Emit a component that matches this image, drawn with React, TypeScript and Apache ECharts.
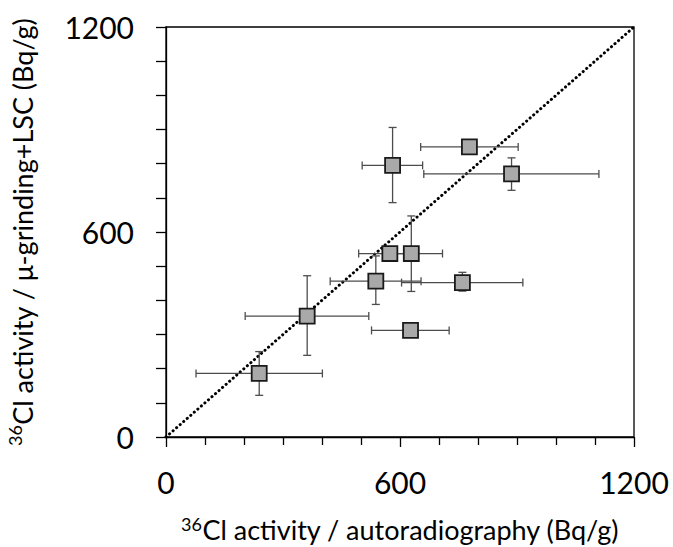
import React, { useEffect, useRef } from "react";
import * as echarts from "echarts";

// autoradiography activity (x) and μ-grinding+LSC activity (y), Bq/g
const xValues = [239, 362, 538, 574, 629, 760, 627, 581, 778, 886];
const yValues = [186, 354, 456, 537, 537, 452, 312, 795, 849, 770];
const xLow = [77, 203, 421, 494, 575, 604, 527, 503, 653, 661];
const xHigh = [401, 520, 654, 630, 709, 915, 726, 658, 903, 1110];
const yLow = [122, 239, 388, 537, 426, 427, 312, 686, 849, 722];
const yHigh = [250, 472, 530, 537, 647, 482, 312, 906, 849, 817];
const identityLine = [
  [0, 0],
  [1200, 1200],
];
const axisMin = 0;
const axisMax = 1200;
const labelInterval = 600;

const FONT = "Lato";

export default function App() {
  const ref = useRef<HTMLDivElement>(null);
  useEffect(() => {
    document.body.style.margin = "0";
    const chart = echarts.init(ref.current!, null, { renderer: "svg" });
    const points = xValues.map((x, i) => [x, yValues[i]]);
    const errData = xValues.map((x, i) => [x, yValues[i], xLow[i], xHigh[i], yLow[i], yHigh[i]]);
    const capH = 4;
    const errStyle = { stroke: "#4d4d4d", lineWidth: 1.3 };
    const makeRich = (lh: number) => ({
      sup: { fontFamily: FONT, fontSize: 18, color: "#000", verticalAlign: "top", lineHeight: lh },
      main: { fontFamily: FONT, fontSize: 27, color: "#000", lineHeight: lh },
    });
    const axisCommon = (isX: boolean) => ({
      type: "value",
      min: axisMin,
      max: axisMax,
      interval: labelInterval,
      axisLine: { show: true, lineStyle: { color: "#000", width: 1.3 } },
      axisTick: { show: true, inside: false, length: 10, lineStyle: { color: "#000", width: 1.3 } },
      minorTick: { show: true, splitNumber: 6, length: isX ? 8 : 10, lineStyle: { color: "#000", width: 1.3 } },
      splitLine: { show: false },
      minorSplitLine: { show: false },
      axisLabel: {
        fontFamily: FONT,
        fontSize: 30,
        color: "#000",
        margin: isX ? 30 : 32,
        formatter: (v: number) => String(v),
      },
    });
    chart.setOption({
      animation: false,
      grid: {
        left: 166,
        right: 39,
        top: 27,
        bottom: 110,
        outerBoundsMode: "none",
        containLabel: false,
        show: true,
        borderColor: "#000",
        borderWidth: 1.3,
        backgroundColor: "transparent",
      },
      xAxis: {
        ...axisCommon(true),
        name: "{sup|36}{main|Cl activity / autoradiography (Bq/g)}",
        nameLocation: "middle",
        nameGap: 78,
        nameTextStyle: { rich: makeRich(28) },
      },
      yAxis: {
        ...axisCommon(false),
        name: "{sup|36}{main|Cl activity / μ-grinding+LSC (Bq/g)}",
        nameLocation: "middle",
        nameRotate: 90,
        nameGap: 128,
        nameTextStyle: { rich: makeRich(32) },
      },
      series: [
        {
          type: "line",
          data: identityLine,
          symbol: "none",
          silent: true,
          lineStyle: { color: "#000", width: 3, type: [0.1, 4.6], cap: "round" },
          z: 1,
        },
        {
          type: "custom",
          data: errData,
          z: 2,
          renderItem: (params: any, api: any) => {
            const x = api.value(0);
            const y = api.value(1);
            const xl = api.value(2);
            const xh = api.value(3);
            const yl = api.value(4);
            const yh = api.value(5);
            const children: any[] = [];
            if (xh > xl) {
              const a = api.coord([xl, y]);
              const b = api.coord([xh, y]);
              children.push({ type: "line", shape: { x1: a[0], y1: a[1], x2: b[0], y2: b[1] }, style: errStyle });
              children.push({ type: "line", shape: { x1: a[0], y1: a[1] - capH, x2: a[0], y2: a[1] + capH }, style: errStyle });
              children.push({ type: "line", shape: { x1: b[0], y1: b[1] - capH, x2: b[0], y2: b[1] + capH }, style: errStyle });
            }
            if (yh > yl) {
              const a = api.coord([x, yl]);
              const b = api.coord([x, yh]);
              children.push({ type: "line", shape: { x1: a[0], y1: a[1], x2: b[0], y2: b[1] }, style: errStyle });
              children.push({ type: "line", shape: { x1: a[0] - capH, y1: a[1], x2: a[0] + capH, y2: a[1] }, style: errStyle });
              children.push({ type: "line", shape: { x1: b[0] - capH, y1: b[1], x2: b[0] + capH, y2: b[1] }, style: errStyle });
            }
            return { type: "group", children };
          },
        },
        {
          type: "scatter",
          data: points,
          symbol: "rect",
          symbolSize: 15,
          z: 3,
          itemStyle: { color: "#a9a9a9", borderColor: "#1a1a1a", borderWidth: 1.8, opacity: 1 },
        },
      ],
    });
    return () => chart.dispose();
  }, []);
  return <div ref={ref} style={{ width: 673, height: 547 }} />;
}
